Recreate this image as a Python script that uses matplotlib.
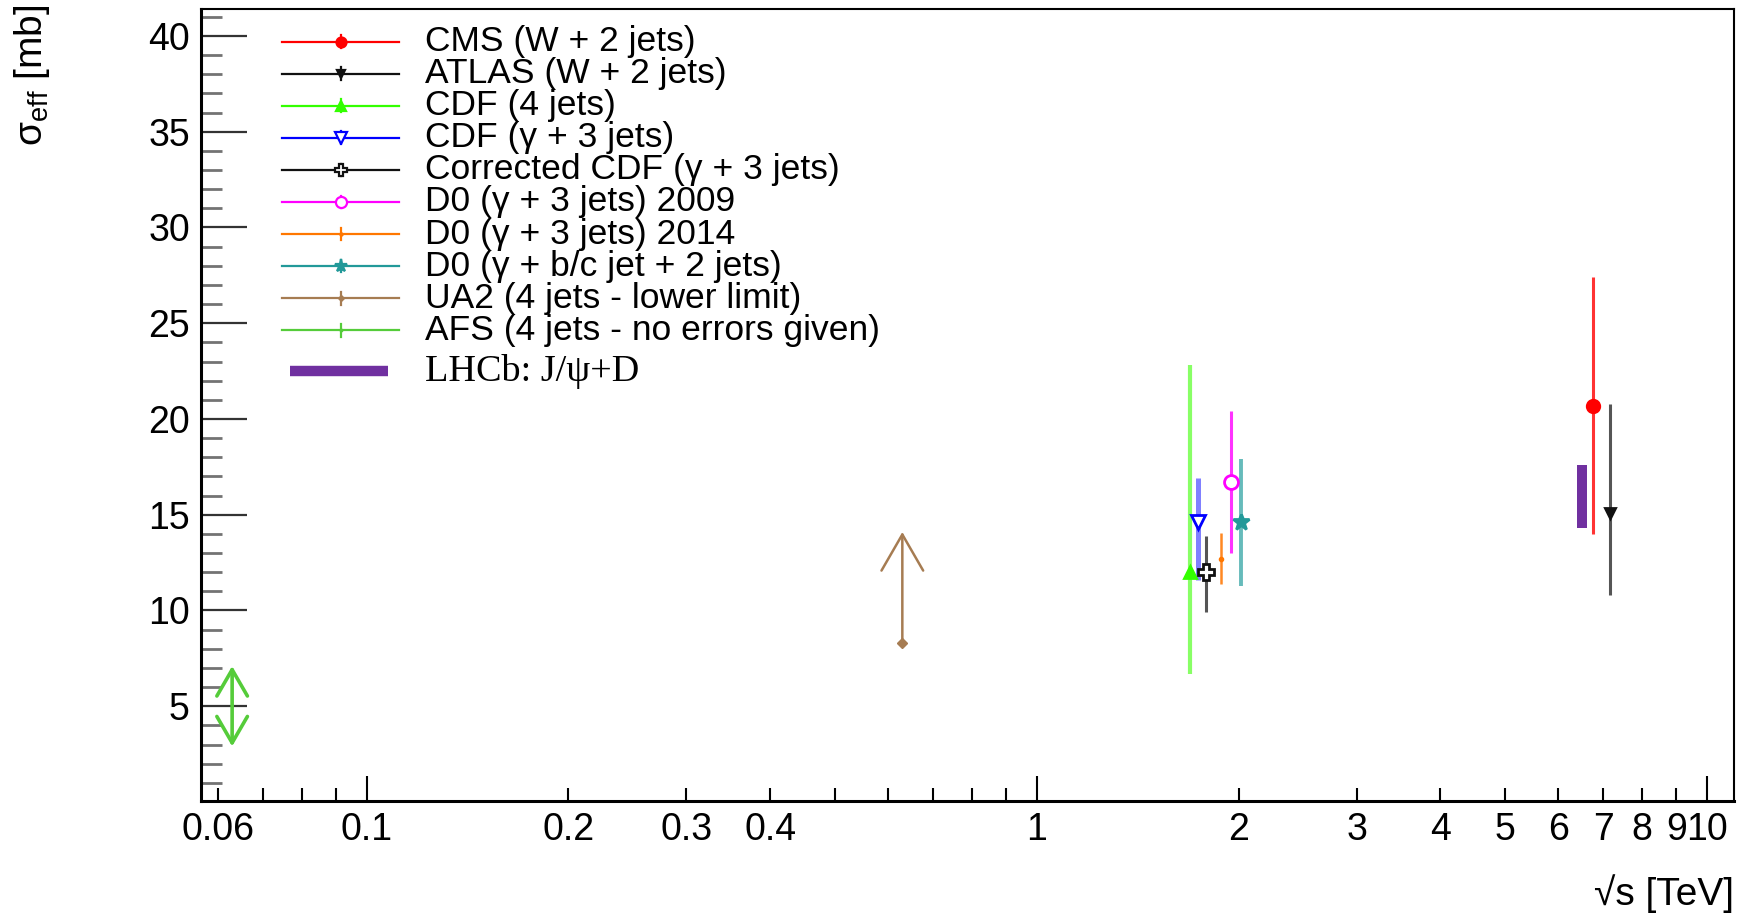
import matplotlib
matplotlib.use("Agg")
import matplotlib.pyplot as plt
from matplotlib.ticker import FixedLocator, FuncFormatter, MultipleLocator

plt.rcParams["font.family"] = ["Liberation Sans", "DejaVu Sans"]
plt.rcParams["mathtext.fontset"] = "custom"
plt.rcParams["mathtext.rm"] = "Liberation Sans"
plt.rcParams["mathtext.it"] = "Liberation Sans:italic"
plt.rcParams["mathtext.sf"] = "Liberation Sans"

# point measurements: sqrt(s) in TeV, sigma_eff in mb with lower/upper error edges
labels = [
    "CMS (W + 2 jets)",
    "ATLAS (W + 2 jets)",
    "CDF (4 jets)",
    "CDF (γ + 3 jets)",
    "Corrected CDF (γ + 3 jets)",
    "D0 (γ + 3 jets) 2009",
    "D0 (γ + 3 jets) 2014",
    "D0 (γ + b/c jet + 2 jets)",
]
energy = [6.76, 7.16, 1.69, 1.74, 1.79, 1.95, 1.88, 2.02]
sigma = [20.7, 15.1, 12.0, 14.6, 12.0, 16.7, 12.7, 14.6]
sigma_low = [14.0, 10.8, 6.7, 11.6, 9.9, 13.0, 11.4, 11.3]
sigma_high = [27.4, 20.8, 22.8, 16.9, 13.9, 20.4, 14.05, 17.9]

# UA2 lower limit, AFS without errors, LHCb band
ua2_label = "UA2 (4 jets - lower limit)"
ua2_energy = 0.63
ua2_sigma = 8.3
ua2_arrow_top = 14.1

afs_label = "AFS (4 jets - no errors given)"
afs_energy = 0.063
afs_sigma = 5.0
afs_range = [2.9, 7.1]

lhcb_label = "LHCb: J/ψ+D"
lhcb_energy = [6.40, 6.62]
lhcb_sigma = [14.3, 17.6]

# drawing styles for the point measurements
colors = ["#ff0000", "#111111", "#33ff00", "#0000ff", "#111111",
          "#ff00ff", "#ff7700", "#229999"]
bar_colors = ["#ff3333", "#555555", "#88ff66", "#8080ff", "#555555",
              "#ff33ff", "#ff8822", "#66bbbb"]
bar_widths = [2.2, 2.2, 3.0, 3.6, 2.2, 2.2, 1.8, 2.8]
markers = ["o", "v", "^", "v", "P", "o", ".", "*"]
marker_sizes = [9, 7, 9, 10, 11, 10, 4, 12]
open_marker = [False, False, False, True, True, True, False, False]
ua2_color = "#a67c52"
afs_color = "#55cc3a"
lhcb_color = "#7030a0"

fig = plt.figure(figsize=(17.52, 9.14), dpi=100)
ax = fig.add_axes([0.1147, 0.1236, 0.875, 0.8664])

for i in range(len(labels)):
    yerr = [[sigma[i] - sigma_low[i]], [sigma_high[i] - sigma[i]]]
    ax.errorbar([energy[i]], [sigma[i]], yerr=yerr, fmt=markers[i],
                color=colors[i], ecolor=bar_colors[i], elinewidth=bar_widths[i],
                capsize=0, markersize=marker_sizes[i],
                mfc="white" if open_marker[i] else colors[i],
                mec=colors[i], mew=2.0, zorder=3)

# UA2: lower limit drawn as an upward arrow
ax.annotate("", xy=(ua2_energy, ua2_arrow_top), xytext=(ua2_energy, ua2_sigma),
            arrowprops=dict(arrowstyle="->,head_length=2.6,head_width=1.5",
                            color=ua2_color, lw=1.8, shrinkA=0, shrinkB=0,
                            mutation_scale=10))
ax.plot([ua2_energy], [ua2_sigma], "D", color=ua2_color, markersize=5)

# AFS: double arrow spanning the quoted range
ax.annotate("", xy=(afs_energy, afs_range[1]), xytext=(afs_energy, afs_range[0]),
            arrowprops=dict(arrowstyle="<->,head_length=1.9,head_width=1.1",
                            color=afs_color, lw=2.6, shrinkA=0, shrinkB=0,
                            mutation_scale=10))

# LHCb band
ax.fill_between(lhcb_energy, lhcb_sigma[0], lhcb_sigma[1],
                color=lhcb_color, lw=0, zorder=2)

# axes
ax.set_xscale("log")
ax.set_xlim(0.0566, 10.97)
ax.set_ylim(0.05, 41.4)

labelled = {0.06, 0.1, 0.2, 0.3, 0.4, 1, 2, 3, 4, 5, 6, 7, 8, 9, 10}


def tick_text(v, _pos):
    for t in labelled:
        if abs(v - t) < 1e-6 * t:
            return f"{t:g}"
    return ""


ax.xaxis.set_major_locator(FixedLocator([0.1, 1, 10]))
ax.xaxis.set_minor_locator(FixedLocator(
    [0.06, 0.07, 0.08, 0.09, 0.2, 0.3, 0.4, 0.5, 0.6, 0.7, 0.8, 0.9,
     2, 3, 4, 5, 6, 7, 8, 9]))
ax.xaxis.set_major_formatter(FuncFormatter(tick_text))
ax.xaxis.set_minor_formatter(FuncFormatter(tick_text))
ax.yaxis.set_major_locator(MultipleLocator(5))
ax.yaxis.set_minor_locator(MultipleLocator(1))

ax.tick_params(axis="both", which="both", direction="in", top=False, right=False,
               labelsize=27)
ax.tick_params(axis="x", which="major", length=18, width=1.5, pad=8)
ax.tick_params(axis="x", which="minor", length=9.5, width=1.5, pad=8)
ax.tick_params(axis="y", which="major", length=33, width=1.6, pad=8, color="0.2")
ax.tick_params(axis="y", which="minor", length=15, width=2.0, color="0.45")
for side in ["left", "bottom"]:
    ax.spines[side].set_linewidth(2.2)
for side in ["top", "right"]:
    ax.spines[side].set_linewidth(1.5)

ax.set_ylabel("σ$_{\\mathrm{eff}}$ [mb]", fontsize=28, loc="top")
ax.yaxis.set_label_coords(-0.097, 1.005)
ax.set_xlabel("√s [TeV]", fontsize=28, loc="right")
ax.xaxis.set_label_coords(1.0, -0.093)

# hand-built legend in axes fraction
tr = ax.transAxes
row0, step = 0.959, 0.0405
line_x = [0.0528, 0.129]
mark_x = 0.0913
text_x = 0.146
tick_half = 0.008

entries = [(labels[i], colors[i], markers[i], marker_sizes[i], open_marker[i])
           for i in range(len(labels))]
entries.append((ua2_label, ua2_color, "D", 3, False))
entries.append((afs_label, afs_color, ".", 3, False))

for k, (lab, col, mk, ms, hollow) in enumerate(entries):
    y = row0 - k * step
    ax.plot(line_x, [y, y], color=col, lw=1.6, transform=tr, clip_on=False)
    ax.plot([mark_x, mark_x], [y - tick_half, y + tick_half], color=col, lw=1.6,
            transform=tr, clip_on=False)
    ax.plot([mark_x], [y], mk, color=col, markersize=ms * 0.8,
            mfc="white" if hollow else col, mec=col, mew=1.6,
            transform=tr, clip_on=False)
    ax.text(text_x, y, lab, transform=tr, fontsize=25.5, va="center", ha="left")

lhcb_y = 0.543
ax.plot([0.058, 0.122], [lhcb_y, lhcb_y], color=lhcb_color, lw=7.5,
        solid_capstyle="butt", transform=tr)
ax.text(text_x, lhcb_y, lhcb_label, transform=tr, fontsize=27.5, va="center",
        ha="left", family=["Liberation Serif", "DejaVu Serif"])

fig.savefig("out.png", dpi=100, facecolor="white")
